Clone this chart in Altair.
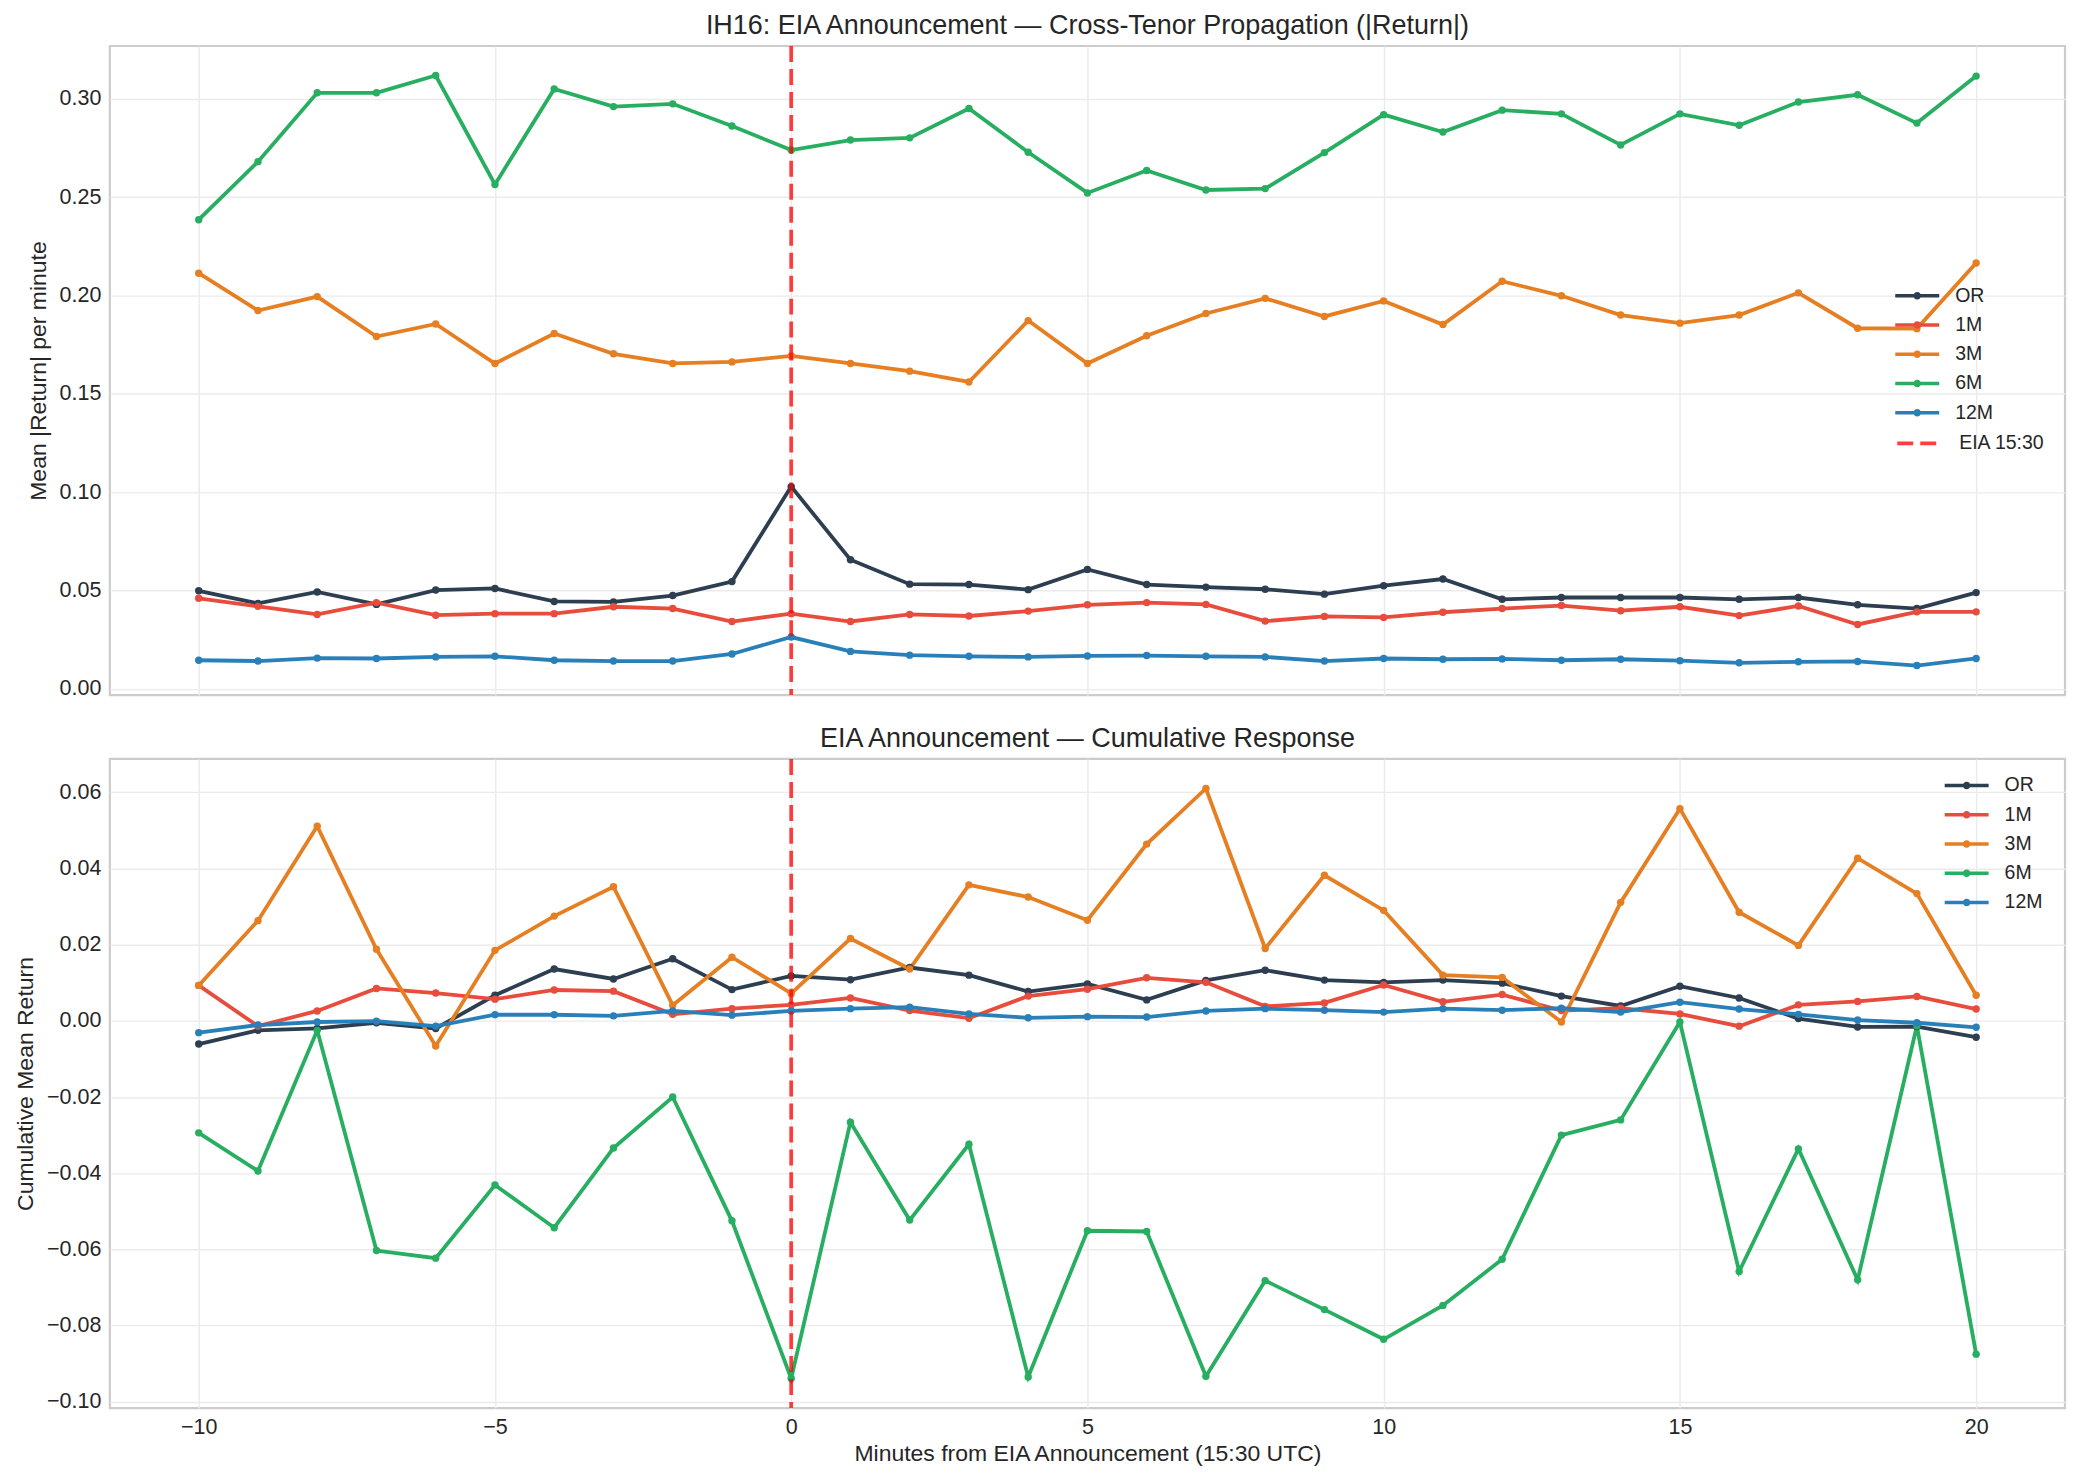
import altair as alt
import pandas as pd

minutes = list(range(-10, 21))
tenors = ["OR", "1M", "3M", "6M", "12M"]
tenor_colors = ["#2c3e50", "#e74c3c", "#e67e22", "#27ae60", "#2980b9"]

# Top panel: mean |return| per minute
abs_or = [0.0498, 0.0434, 0.0492, 0.0429, 0.0502, 0.0510, 0.0444, 0.0442, 0.0474, 0.0545, 0.1028,
          0.0656, 0.0532, 0.0530, 0.0504, 0.0607, 0.0530, 0.0517, 0.0506, 0.0481, 0.0524,
          0.0558, 0.0455, 0.0464, 0.0464, 0.0464, 0.0455, 0.0464, 0.0427, 0.0408, 0.0489]
abs_1m = [0.0460, 0.0419, 0.0378, 0.0438, 0.0374, 0.0382, 0.0382, 0.0417, 0.0408, 0.0342, 0.0382,
          0.0342, 0.0378, 0.0370, 0.0395, 0.0427, 0.0438, 0.0429, 0.0344, 0.0368, 0.0363,
          0.0389, 0.0408, 0.0423, 0.0397, 0.0417, 0.0372, 0.0421, 0.0327, 0.0391, 0.0391]
abs_3m = [0.2113, 0.1923, 0.1994, 0.1791, 0.1855, 0.1654, 0.1806, 0.1703, 0.1654, 0.1662, 0.1692,
          0.1654, 0.1615, 0.1560, 0.1872, 0.1654, 0.1795, 0.1908, 0.1985, 0.1893, 0.1972,
          0.1852, 0.2072, 0.1998, 0.1900, 0.1859, 0.1900, 0.2013, 0.1833, 0.1831, 0.2165]
abs_6m = [0.2385, 0.2680, 0.3030, 0.3030, 0.3118, 0.2564, 0.3050, 0.2960, 0.2974, 0.2861, 0.2739,
          0.2790, 0.2801, 0.2950, 0.2728, 0.2521, 0.2635, 0.2536, 0.2543, 0.2726, 0.2919,
          0.2831, 0.2942, 0.2923, 0.2765, 0.2923, 0.2865, 0.2983, 0.3020, 0.2876, 0.3115]
abs_12m = [0.0145, 0.0141, 0.0156, 0.0154, 0.0162, 0.0165, 0.0145, 0.0141, 0.0141, 0.0177, 0.0263,
           0.0190, 0.0171, 0.0165, 0.0162, 0.0167, 0.0169, 0.0165, 0.0162, 0.0141, 0.0154,
           0.0150, 0.0152, 0.0145, 0.0150, 0.0143, 0.0132, 0.0137, 0.0139, 0.0118, 0.0154]

# Bottom panel: cumulative mean return
cum_or = [-0.0061, -0.0025, -0.0020, -0.0005, -0.0020, 0.0067, 0.0136, 0.0110, 0.0163, 0.0082, 0.0118,
          0.0108, 0.0140, 0.0120, 0.0077, 0.0097, 0.0055, 0.0106, 0.0133, 0.0107, 0.0101,
          0.0107, 0.0099, 0.0065, 0.0039, 0.0091, 0.0060, 0.0006, -0.0016, -0.0015, -0.0043]
cum_1m = [0.0093, -0.0014, 0.0026, 0.0085, 0.0073, 0.0057, 0.0081, 0.0078, 0.0017, 0.0032, 0.0042,
          0.0060, 0.0027, 0.0007, 0.0065, 0.0083, 0.0113, 0.0101, 0.0038, 0.0047, 0.0094,
          0.0050, 0.0069, 0.0027, 0.0033, 0.0018, -0.0014, 0.0042, 0.0051, 0.0064, 0.0031]
cum_3m = [0.0093, 0.0263, 0.0511, 0.0188, -0.0066, 0.0185, 0.0275, 0.0352, 0.0041, 0.0167, 0.0072,
          0.0216, 0.0136, 0.0357, 0.0325, 0.0264, 0.0464, 0.0610, 0.0190, 0.0382, 0.0290,
          0.0120, 0.0114, -0.0003, 0.0311, 0.0557, 0.0285, 0.0198, 0.0427, 0.0334, 0.0067]
cum_6m = [-0.0294, -0.0394, -0.0025, -0.0603, -0.0623, -0.0431, -0.0543, -0.0334, -0.0200, -0.0525, -0.0939,
          -0.0266, -0.0523, -0.0324, -0.0935, -0.0551, -0.0553, -0.0933, -0.0682, -0.0758, -0.0836,
          -0.0747, -0.0626, -0.0300, -0.0260, -0.0003, -0.0658, -0.0336, -0.0680, -0.0013, -0.0875]
cum_12m = [-0.0031, -0.0011, -0.0003, -0.0001, -0.0014, 0.0016, 0.0016, 0.0013, 0.0026, 0.0015, 0.0026,
           0.0032, 0.0036, 0.0018, 0.0008, 0.0011, 0.0010, 0.0026, 0.0032, 0.0028, 0.0023,
           0.0032, 0.0028, 0.0033, 0.0023, 0.0049, 0.0031, 0.0017, 0.0002, -0.0005, -0.0017]

x_ticks = [-10, -5, 0, 5, 10, 15, 20]
top_y_ticks = [0.00, 0.05, 0.10, 0.15, 0.20, 0.25, 0.30]
bottom_y_ticks = [-0.10, -0.08, -0.06, -0.04, -0.02, 0.00, 0.02, 0.04, 0.06]
event_minute = [0]
event_label = ["EIA 15:30"]

FONT = "Liberation Sans"
TXT = "#262626"


def long_frame(series):
    rows = []
    for name, vals in zip(tenors, series):
        for m, v in zip(minutes, vals):
            rows.append({"minute": m, "tenor": name, "value": v})
    return pd.DataFrame(rows)


def padded(vals):
    lo, hi = min(vals), max(vals)
    r = hi - lo
    return [lo - 0.05 * r, hi + 0.05 * r]


df_top = long_frame([abs_or, abs_1m, abs_3m, abs_6m, abs_12m])
df_bot = long_frame([cum_or, cum_1m, cum_3m, cum_6m, cum_12m])
df_rule = pd.DataFrame({"minute": event_minute, "label": event_label})

x_dom = padded(minutes)
top_dom = padded(list(df_top["value"]))
bot_dom = padded(list(df_bot["value"]))

legend_symbol = ("M-2,-0.16L2,-0.16L2,0.16L-2,0.16Z "
                 "M0,-0.34A0.34,0.34,0,1,1,0,0.34A0.34,0.34,0,1,1,0,-0.34Z")

# line colours use the same mapping, listed in reverse so its legend stays separate (and hidden)
stroke_scale = alt.Scale(domain=list(reversed(tenors)), range=list(reversed(tenor_colors)))


def panel(df, ydom, yticks, ytitle, title, show_x, legend_xy, with_dash_legend):
    x_axis = alt.Axis(values=x_ticks, format="d",
                      title="Minutes from EIA Announcement (15:30 UTC)") if show_x \
        else alt.Axis(values=x_ticks, labels=False, title=None)
    x = alt.X("minute:Q", scale=alt.Scale(domain=x_dom, nice=False, zero=False), axis=x_axis)
    y = alt.Y("value:Q", scale=alt.Scale(domain=ydom, nice=False, zero=False),
              axis=alt.Axis(values=yticks, format=".2f", title=ytitle))
    lines = alt.Chart(df).mark_line(strokeWidth=3.8).encode(
        x=x, y=y,
        stroke=alt.Stroke("tenor:N", scale=stroke_scale, legend=None),
        order=alt.Order("minute:Q"))
    pts = alt.Chart(df).mark_point(filled=True, size=55, opacity=1).encode(
        x=x, y=y,
        color=alt.Color("tenor:N", scale=alt.Scale(domain=tenors, range=tenor_colors),
                        legend=alt.Legend(title=None, orient="none",
                                          legendX=legend_xy[0], legendY=legend_xy[1],
                                          symbolType=legend_symbol, symbolSize=484,
                                          symbolStrokeWidth=0, labelOffset=27,
                                          rowPadding=8.3, padding=0,
                                          labelFont=FONT, labelFontSize=19.5,
                                          labelColor=TXT)))
    rx = alt.X("minute:Q", scale=alt.Scale(domain=x_dom, nice=False, zero=False))
    if with_dash_legend:
        rule = alt.Chart(df_rule).mark_rule(color="red", opacity=0.75, strokeWidth=3.8).encode(
            x=rx,
            strokeDash=alt.StrokeDash("label:N",
                                      scale=alt.Scale(domain=event_label, range=[[16, 7]]),
                                      legend=alt.Legend(title=None, orient="none",
                                                        legendX=1788, legendY=376,
                                                        symbolType="stroke", symbolSize=1600,
                                                        symbolStrokeWidth=3.8,
                                                        symbolStrokeColor="red",
                                                        symbolOpacity=0.75,
                                                        labelOffset=20, padding=0,
                                                        labelFont=FONT, labelFontSize=19.5,
                                                        labelColor=TXT)))
    else:
        rule = alt.Chart(df_rule).mark_rule(color="red", opacity=0.75, strokeWidth=3.8,
                                            strokeDash=[16, 7]).encode(x=rx)
    return alt.layer(lines, pts, rule).properties(
        width=1958, height=650,
        title=alt.Title(title, fontSize=27, font=FONT, color=TXT, fontWeight="normal",
                        anchor="middle", offset=4))


top = panel(df_top, top_dom, top_y_ticks, "Mean |Return| per minute",
            "IH16: EIA Announcement \u2014 Cross-Tenor Propagation (|Return|)",
            False, (1799, 239), True)
bottom = panel(df_bot, bot_dom, bottom_y_ticks, "Cumulative Mean Return",
               "EIA Announcement \u2014 Cumulative Response",
               True, (1848.5, 15.5), False)

chart = alt.vconcat(top, bottom, spacing=23).resolve_scale(
    color="independent", stroke="independent", y="independent", strokeDash="independent"
).resolve_legend(color="independent").properties(
    padding={"left": 5, "top": 2, "right": 5, "bottom": 5},
    background="white",
).configure(font=FONT).configure_view(
    stroke="#cccccc", strokeWidth=2.2
).configure_axis(
    gridColor="#ebebeb", gridWidth=1.4, domain=False, ticks=False,
    labelFont=FONT, labelFontSize=21.5, labelColor=TXT, labelPadding=9,
    titleFont=FONT, titleFontSize=23, titleFontWeight="normal", titleColor=TXT,
).configure_axisY(titlePadding=14, titleBaseline="alphabetic")

chart.save("out.html", embed_options={"renderer": "svg", "actions": False})
